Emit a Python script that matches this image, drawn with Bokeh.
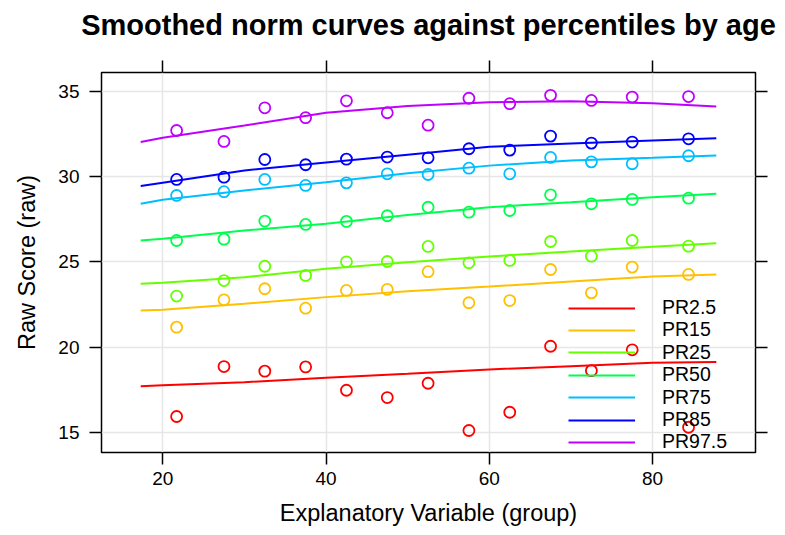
from bokeh.plotting import figure
from bokeh.models import Range1d, LinearAxis, Legend, LegendItem, FixedTicker
from bokeh.embed import file_html
from bokeh.resources import INLINE

# ---- data ----
groups = [21.7, 27.5, 32.5, 37.5, 42.5, 47.5, 52.5, 57.5, 62.5, 67.5, 72.5, 77.5, 84.4]
labels = ["PR2.5", "PR15", "PR25", "PR50", "PR75", "PR85", "PR97.5"]
colors = ["#FF0000", "#FFC000", "#66FF00", "#00FF4D", "#00BFFF", "#0000FF", "#BF00FF"]

obs_pr2_5 = [15.94, 18.87, 18.60, 18.85, 17.48, 17.05, 17.89, 15.12, 16.19, 20.06, 18.63, 19.85, 15.31]
obs_pr15 = [21.18, 22.78, 23.43, 22.29, 23.33, 23.39, 24.43, 22.61, 22.74, 24.56, 23.19, 24.70, 24.27]
obs_pr25 = [23.00, 23.91, 24.75, 24.21, 25.01, 25.03, 25.91, 24.95, 25.09, 26.20, 25.34, 26.26, 25.93]
obs_pr50 = [26.26, 26.34, 27.40, 27.20, 27.38, 27.71, 28.21, 27.92, 28.02, 28.94, 28.41, 28.67, 28.74]
obs_pr75 = [28.90, 29.12, 29.84, 29.49, 29.64, 30.17, 30.13, 30.50, 30.17, 31.13, 30.87, 30.76, 31.23]
obs_pr85 = [29.84, 29.97, 31.01, 30.70, 31.03, 31.15, 31.11, 31.64, 31.56, 32.38, 31.97, 32.03, 32.22]
obs_pr97_5 = [32.71, 32.07, 34.04, 33.46, 34.45, 33.75, 33.02, 34.60, 34.28, 34.77, 34.47, 34.67, 34.70]

curve_x = [17.3, 20, 30, 40, 50, 60, 70, 80, 87.8]
fit_pr2_5 = [17.72, 17.78, 17.95, 18.21, 18.44, 18.70, 18.89, 19.09, 19.13]
fit_pr15 = [22.16, 22.20, 22.55, 22.94, 23.29, 23.56, 23.86, 24.15, 24.27]
fit_pr25 = [23.72, 23.78, 24.11, 24.60, 24.99, 25.32, 25.62, 25.89, 26.10]
fit_pr50 = [26.26, 26.36, 26.85, 27.24, 27.75, 28.21, 28.50, 28.80, 29.00]
fit_pr75 = [28.41, 28.65, 29.19, 29.68, 30.20, 30.65, 30.95, 31.11, 31.25]
fit_pr85 = [29.45, 29.65, 30.37, 30.83, 31.29, 31.75, 31.95, 32.13, 32.26]
fit_pr97_5 = [32.03, 32.28, 33.00, 33.75, 34.15, 34.37, 34.43, 34.31, 34.12]

x_ticks = [20, 40, 60, 80]
y_ticks = [15, 20, 25, 30, 35]
title_text = "Smoothed norm curves against percentiles by age"

observed = [obs_pr2_5, obs_pr15, obs_pr25, obs_pr50, obs_pr75, obs_pr85, obs_pr97_5]
fitted = [fit_pr2_5, fit_pr15, fit_pr25, fit_pr50, fit_pr75, fit_pr85, fit_pr97_5]

FONT = "Liberation Sans"

p = figure(width=785, height=535, output_backend="svg", toolbar_location=None,
           x_range=Range1d(12.5, 92.6), y_range=Range1d(13.83, 36.11),
           min_border_left=101, min_border_right=30, min_border_top=72, min_border_bottom=83)

p.outline_line_color = "black"
p.outline_line_width = 1.5

bottom = p.below[0]
left = p.left[0]
bottom.axis_label = "Explanatory Variable (group)"
left.axis_label = "Raw Score (raw)"
bottom.ticker = FixedTicker(ticks=x_ticks)
left.ticker = FixedTicker(ticks=y_ticks)

top = LinearAxis(ticker=FixedTicker(ticks=x_ticks),
                 major_label_overrides={t: "" for t in x_ticks}, major_label_standoff=0)
right = LinearAxis(ticker=FixedTicker(ticks=y_ticks),
                   major_label_overrides={t: "" for t in y_ticks}, major_label_standoff=0)
p.add_layout(top, "above")
p.add_layout(right, "right")

for ax in [bottom, left, top, right]:
    ax.axis_line_color = None
    ax.major_tick_in = 0
    ax.major_tick_out = 12
    ax.major_tick_line_width = 1.5
    ax.major_tick_line_color = "black"
    ax.minor_tick_line_color = None
    ax.major_label_text_font = FONT
    ax.major_label_text_color = "black"
    ax.major_label_text_font_size = "19px"
    ax.axis_label_text_font = FONT
    ax.axis_label_text_font_style = "normal"
    ax.axis_label_text_color = "black"
    ax.axis_label_text_font_size = "23.5px"

# title drawn as the top axis' label (centred over the plot frame)
top.axis_label = title_text
top.axis_label_text_font_style = "bold"
top.axis_label_text_font_size = "29px"
top.axis_label_standoff = 20

bottom.major_label_standoff = 7
left.major_label_standoff = 10
bottom.axis_label_standoff = 12
left.axis_label_standoff = 15

p.xgrid.ticker = FixedTicker(ticks=x_ticks)
p.ygrid.ticker = FixedTicker(ticks=y_ticks)
p.grid.grid_line_color = "#E6E6E6"
p.grid.grid_line_width = 1.5

row_step = 22.4
for i, (lab, col, obs, fit) in enumerate(zip(labels, colors, observed, fitted)):
    p.scatter(groups, obs, size=11, fill_color=None, line_color=col, line_width=1.8)
    r = p.line(curve_x, fit, line_color=col, line_width=2)
    # one legend entry per row, stacked with the tighter row spacing of the reference
    leg = Legend(items=[LegendItem(label=lab, renderers=[r])],
                 location=(467, 133 - row_step * i), padding=0, margin=0,
                 background_fill_alpha=0, border_line_alpha=0,
                 glyph_width=67, glyph_height=20, label_height=20, spacing=0,
                 label_standoff=27, label_text_font=FONT, label_text_font_size="19.5px",
                 label_text_color="black")
    p.add_layout(leg, "center")

open("out.html", "w").write(file_html(p, INLINE))
